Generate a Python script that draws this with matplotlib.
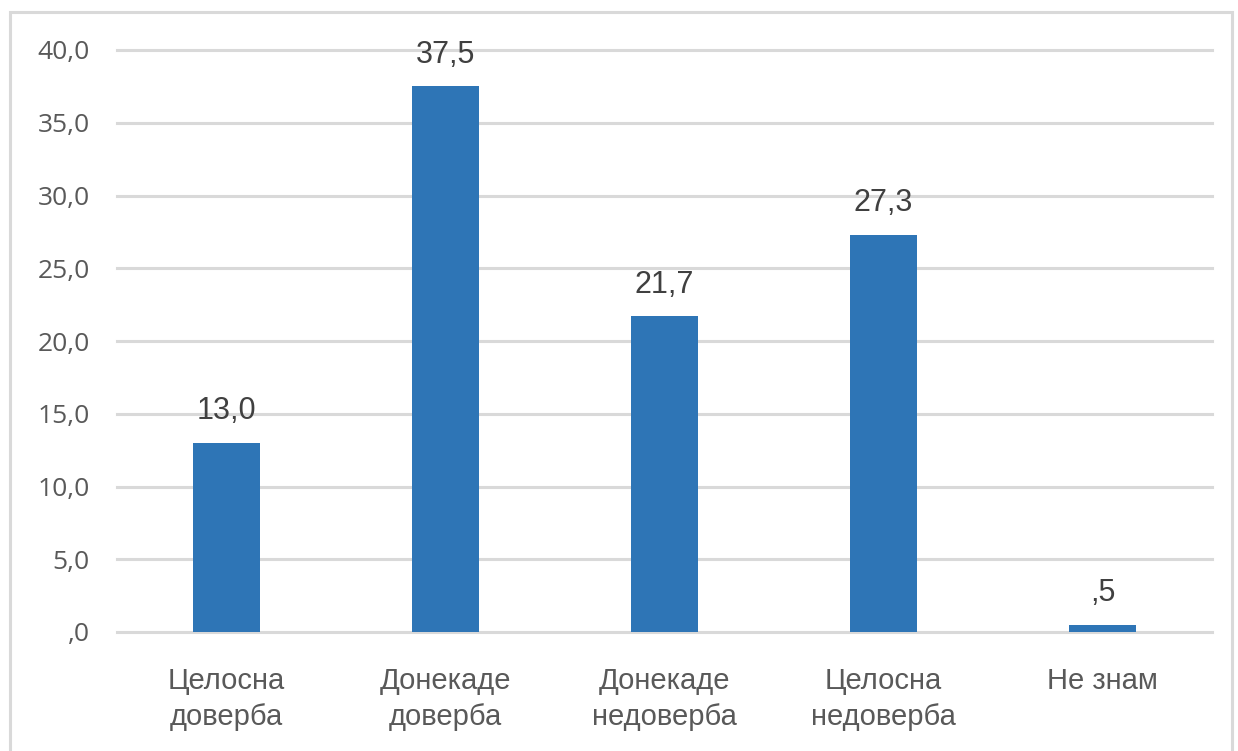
import matplotlib
matplotlib.use("Agg")
import matplotlib.pyplot as plt
from matplotlib.patches import Rectangle

categories = ["Целосна\nдоверба", "Донекаде\nдоверба", "Донекаде\nнедоверба", "Целосна\nнедоверба", "Не знам"]
values = [13.0, 37.5, 21.7, 27.3, 0.5]
value_labels = ["13,0", "37,5", "21,7", "27,3", ",5"]
yticks = [0, 5, 10, 15, 20, 25, 30, 35, 40]
ytick_labels = [",0", "5,0", "10,0", "15,0", "20,0", "25,0", "30,0", "35,0", "40,0"]

fig = plt.figure(figsize=(12.38, 7.51), dpi=100)
fig.patches.append(Rectangle((10/1238, -0.1), (1232-10)/1238, 1.1 - 12/751,
                             transform=fig.transFigure, fill=False,
                             edgecolor="#D9D9D9", linewidth=2.2, zorder=0))
ax = fig.add_axes([117/1238, 1 - 632/751, (1212-117)/1238, (632-50)/751])

x = list(range(len(categories)))
ax.bar(x, values, width=0.31, color="#2E75B6", zorder=3)
ax.set_xlim(-0.5, len(categories) - 0.5)
ax.set_ylim(0, 40)
ax.set_yticks(yticks)
ax.set_yticklabels(ytick_labels, fontfamily="Open Sans", fontsize=19, color="#595959")
ax.set_xticks(x)
ax.set_xticklabels(categories, fontfamily="Liberation Sans", fontsize=21, color="#595959",
                   linespacing=1.36)
ax.tick_params(axis="y", length=0, pad=19.5)
ax.tick_params(axis="x", length=0, pad=25)
ax.grid(axis="y", color="#D9D9D9", linewidth=2.2, zorder=0)
for gl in ax.get_ygridlines():
    gl.set_clip_on(False)
for s in ax.spines.values():
    s.set_visible(False)

for xi, v, lab in zip(x, values, value_labels):
    ax.annotate(lab, (xi, v), xytext=(0, 12), textcoords="offset points",
                ha="center", va="bottom", fontfamily="Liberation Sans",
                fontsize=22, color="#404040", zorder=4)

fig.savefig("out.png", dpi=100)
